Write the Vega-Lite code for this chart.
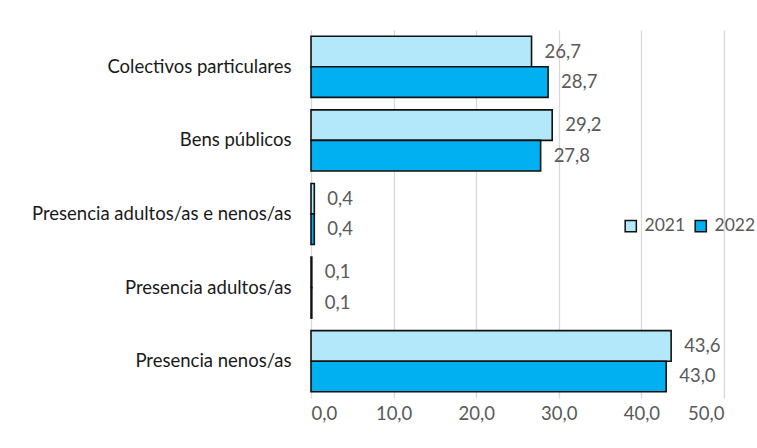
{
  "$schema": "https://vega.github.io/schema/vega-lite/v6.json",
  "width": 413,
  "height": 368,
  "autosize": {"type": "none"},
  "padding": {"left": 311, "top": 30, "right": 33, "bottom": 50},
  "background": "white",
  "config": {
    "locale": {"number": {"decimal": ",", "thousands": ".", "grouping": [3], "currency": ["", " €"]}},
    "view": {"stroke": null},
    "font": "Lato"
  },
  "data": {
    "values": [
      {"cat": "Colectivos particulares", "year": "2021", "value": 26.7},
      {"cat": "Colectivos particulares", "year": "2022", "value": 28.7},
      {"cat": "Bens públicos", "year": "2021", "value": 29.2},
      {"cat": "Bens públicos", "year": "2022", "value": 27.8},
      {"cat": "Presencia adultos/as e nenos/as", "year": "2021", "value": 0.4},
      {"cat": "Presencia adultos/as e nenos/as", "year": "2022", "value": 0.4},
      {"cat": "Presencia adultos/as", "year": "2021", "value": 0.1},
      {"cat": "Presencia adultos/as", "year": "2022", "value": 0.1},
      {"cat": "Presencia nenos/as", "year": "2021", "value": 43.6},
      {"cat": "Presencia nenos/as", "year": "2022", "value": 43.0}
    ]
  },
  "encoding": {
    "y": {
      "field": "cat",
      "type": "nominal",
      "sort": ["Colectivos particulares", "Bens públicos", "Presencia adultos/as e nenos/as", "Presencia adultos/as", "Presencia nenos/as"],
      "scale": {"paddingInner": 0.17, "paddingOuter": 0.085},
      "axis": {"title": null, "domain": false, "ticks": false, "labelPadding": 20, "labelFontSize": 18.5, "labelColor": "#1a1a1a", "labelFont": "Lato", "labelLimit": 320}
    },
    "yOffset": {"field": "year", "type": "nominal", "sort": ["2021", "2022"], "scale": {"paddingInner": 0, "paddingOuter": 0}},
    "x": {
      "field": "value",
      "type": "quantitative",
      "scale": {"domain": [0, 50], "nice": false},
      "axis": {"title": null, "values": [0, 10, 20, 30, 40, 50], "format": ".1f", "domain": false, "ticks": false, "grid": true, "gridColor": "#d9d9d9", "gridWidth": 1.3, "labelPadding": 6, "labelFontSize": 18.5, "labelColor": "#595959", "labelFont": "Lato"}
    }
  },
  "layer": [
    {
      "mark": {"type": "bar", "stroke": "#111111", "strokeWidth": 1.6},
      "encoding": {
        "color": {
          "field": "year",
          "type": "nominal",
          "scale": {"domain": ["2021", "2022"], "range": ["#b3e7fa", "#00b0f0"]},
          "legend": {
            "title": null,
            "orient": "none",
            "legendX": 311,
            "legendY": 187,
            "direction": "horizontal",
            "symbolType": "square",
            "symbolSize": 125,
            "symbolStrokeColor": "#111111",
            "symbolStrokeWidth": 1.5,
            "labelFontSize": 17.5,
            "labelColor": "#595959",
            "labelFont": "Lato",
            "labelOffset": 5,
            "columnPadding": 6
          }
        }
      }
    },
    {
      "mark": {"type": "text", "align": "left", "dx": 13, "fontSize": 18.5, "color": "#595959", "font": "Lato"},
      "encoding": {
        "text": {"field": "value", "type": "quantitative", "format": ".1f"}
      }
    }
  ]
}
